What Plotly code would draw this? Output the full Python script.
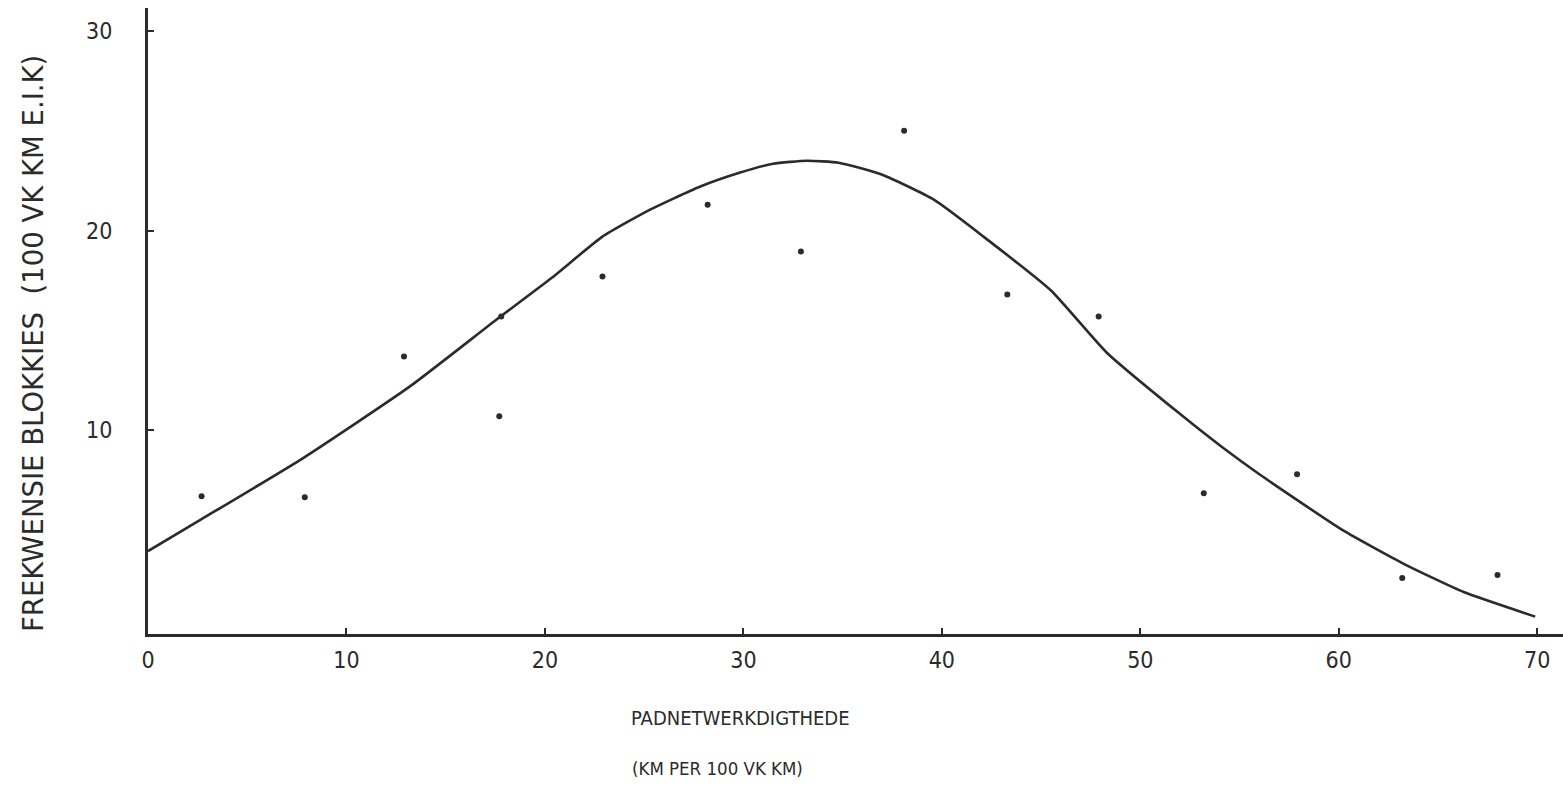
import plotly.graph_objects as go

# Observed data points (padnetwerkdigthede vs frekwensie blokkies)
point_x = [2.7, 7.9, 12.9, 17.7, 17.8, 22.9, 28.2, 32.9, 38.1, 43.3, 47.9, 53.2, 57.9, 63.2, 68.0]
point_y = [6.7, 6.65, 13.7, 10.7, 15.7, 17.7, 21.3, 18.95, 25.0, 16.8, 15.7, 6.85, 7.8, 2.6, 2.75]

# Fitted curve
curve_x = [0, 2.7, 7.8, 13.2, 17.5, 20.3, 22.9, 25.3, 27.8, 29.8, 31.5, 33.2, 34.8, 37.0,
           39.6, 42.1, 45.5, 48.3, 51.9, 54.2, 56.0, 60.2, 63.3, 66.3, 69.9]
curve_y = [3.95, 5.55, 8.6, 12.2, 15.5, 17.6, 19.7, 21.05, 22.2, 22.9, 23.35, 23.5, 23.4, 22.8,
           21.55, 19.7, 17.0, 13.9, 10.9, 9.1, 7.8, 5.0, 3.3, 1.9, 0.67]

x_ticks = [0, 10, 20, 30, 40, 50, 60, 70]
y_ticks = [10, 20, 30]

x_title_1 = "PADNETWERKDIGTHEDE"
x_title_2 = "(KM PER 100 VK KM)"
y_title = "FREKWENSIE BLOKKIES  (100 VK KM E.I.K)"

FONT = "DejaVu Sans Condensed, Liberation Sans Narrow, DejaVu Sans, sans-serif"
WIDE = "DejaVu Sans, sans-serif"
INK = "#2b2b2b"

fig = go.Figure()
fig.add_trace(go.Scatter(x=curve_x, y=curve_y, mode="lines",
                         line=dict(color=INK, width=2.6, shape="spline", smoothing=0.5),
                         hoverinfo="skip", showlegend=False))
fig.add_trace(go.Scatter(x=point_x, y=point_y, mode="markers",
                         marker=dict(color=INK, size=6), showlegend=False))

fig.update_layout(
    width=1563, height=786,
    margin=dict(l=148, r=0, t=8, b=152),
    paper_bgcolor="white", plot_bgcolor="white",
    font=dict(family=FONT, color=INK, size=22),
    xaxis=dict(range=[0, 71.3], tickvals=x_ticks, ticktext=[str(v) for v in x_ticks],
               ticks="inside", ticklen=6, tickwidth=2, tickcolor=INK,
               showline=True, linecolor=INK, linewidth=3, showgrid=False, zeroline=False,
               ticklabelstandoff=3, tickfont=dict(size=23, family=FONT, color=INK)),
    yaxis=dict(range=[-0.2, 31.15], tickvals=y_ticks, ticktext=[str(v) for v in y_ticks],
               ticks="inside", ticklen=6, tickwidth=2, tickcolor=INK,
               showline=True, linecolor=INK, linewidth=3, showgrid=False, zeroline=False,
               ticklabelstandoff=28, tickfont=dict(size=23, family=FONT, color=INK)),
    annotations=[
        dict(text=x_title_1, xref="paper", yref="paper", x=(740 - 148) / 1415, y=-(718 - 634) / 626,
             showarrow=False, xanchor="center", yanchor="middle", font=dict(size=20, family=FONT, color=INK)),
        dict(text=x_title_2, xref="paper", yref="paper", x=(717 - 148) / 1415, y=-(768 - 634) / 626,
             showarrow=False, xanchor="center", yanchor="middle", font=dict(size=18.5, family=FONT, color=INK)),
        dict(text=y_title, xref="paper", yref="paper", x=(33 - 148) / 1415, y=(634 - 344) / 626,
             textangle=-90, showarrow=False, xanchor="center", yanchor="middle",
             font=dict(size=27.5, family=WIDE, color=INK)),
    ],
)

fig.write_html("out.html", config={"displayModeBar": False},
               post_script="document.body.style.margin='0';document.body.style.overflow='hidden';")
